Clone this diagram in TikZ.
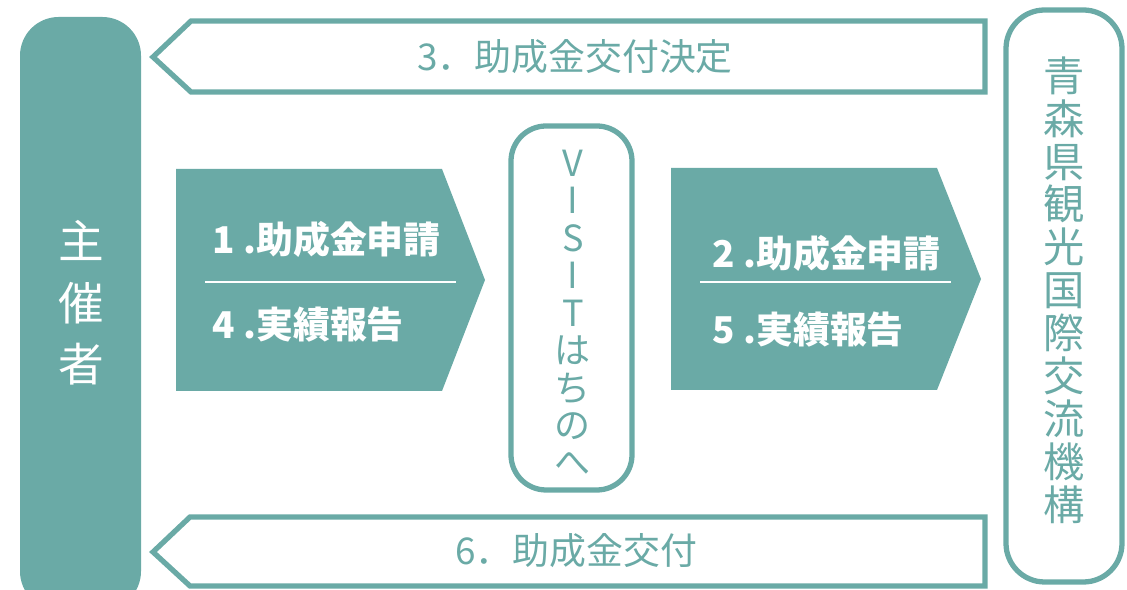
\documentclass[tikz,border=0pt]{standalone}
\usepackage{fontspec}
\newfontfamily\jp{Noto Sans CJK JP}
\definecolor{teal1}{RGB}{106,170,166}
\begin{document}
\begin{tikzpicture}[x=0.02cm,y=-0.02cm,
    outline/.style={draw=teal1,line width=3pt},
    band/.style={fill=teal1},
    sep/.style={draw=white,line width=0.7pt},
    flowtext/.style={white,anchor=west,inner sep=0pt,font=\jp\bfseries\fontsize{21}{24}\selectfont},
    backtext/.style={teal1,font=\jp\fontsize{21}{24}\selectfont},
    vtext/.style={align=center,inner sep=0pt}]
  \useasboundingbox (0,0) rectangle (1127,590);
  % applicant column
  \begin{scope}
    \clip (0,0) rectangle (1127,590);
    \fill[teal1,rounded corners=22pt] (20,17) rectangle (141,610);
  \end{scope}
  \node[vtext,white,font=\jp\fontsize{26}{35}\selectfont] (host) at (81,303) {主\\催\\者};
  % organisation column
  \draw[outline,rounded corners=22pt] (1006,10) rectangle (1122,582);
  \node[vtext,teal1,font=\jp\fontsize{23.5}{24.4}\selectfont] (org) at (1064,290)
    {青\\森\\県\\観\\光\\国\\際\\交\\流\\機\\構};
  % middle office
  \draw[outline,rounded corners=20pt] (511,126) rectangle (632,490);
  \node[vtext,teal1,font=\jp\fontsize{20.5}{21.3}\selectfont] (visit) at (573,313)
    {V\\I\\S\\I\\T\\は\\ち\\の\\へ};
  % return arrows
  \draw[outline] (191,21) -- (985,21) -- (985,92) -- (191,92) -- (153,57) -- cycle;
  \node[backtext] (decide) at (575,57) {3．助成金交付決定};
  \draw[outline] (190,517) -- (985,517) -- (985,586) -- (190,586) -- (153,552) -- cycle;
  \node[backtext] (grant) at (576,551) {6．助成金交付};
  % forward arrows
  \fill[band] (176,169) -- (442,169) -- (485,280) -- (442,391) -- (176,391) -- cycle;
  \draw[sep] (205,282) -- (456,282);
  \node[flowtext] (apply1) at (212,239) {1 .助成金申請};
  \node[flowtext] (report1) at (212,325) {4 .実績報告};
  \fill[band] (671,168) -- (937,168) -- (981,279) -- (937,390) -- (671,390) -- cycle;
  \draw[sep] (700,282) -- (951,282);
  \node[flowtext] (apply2) at (712,253) {2 .助成金申請};
  \node[flowtext] (report2) at (712,330) {5 .実績報告};
\end{tikzpicture}
\end{document}
